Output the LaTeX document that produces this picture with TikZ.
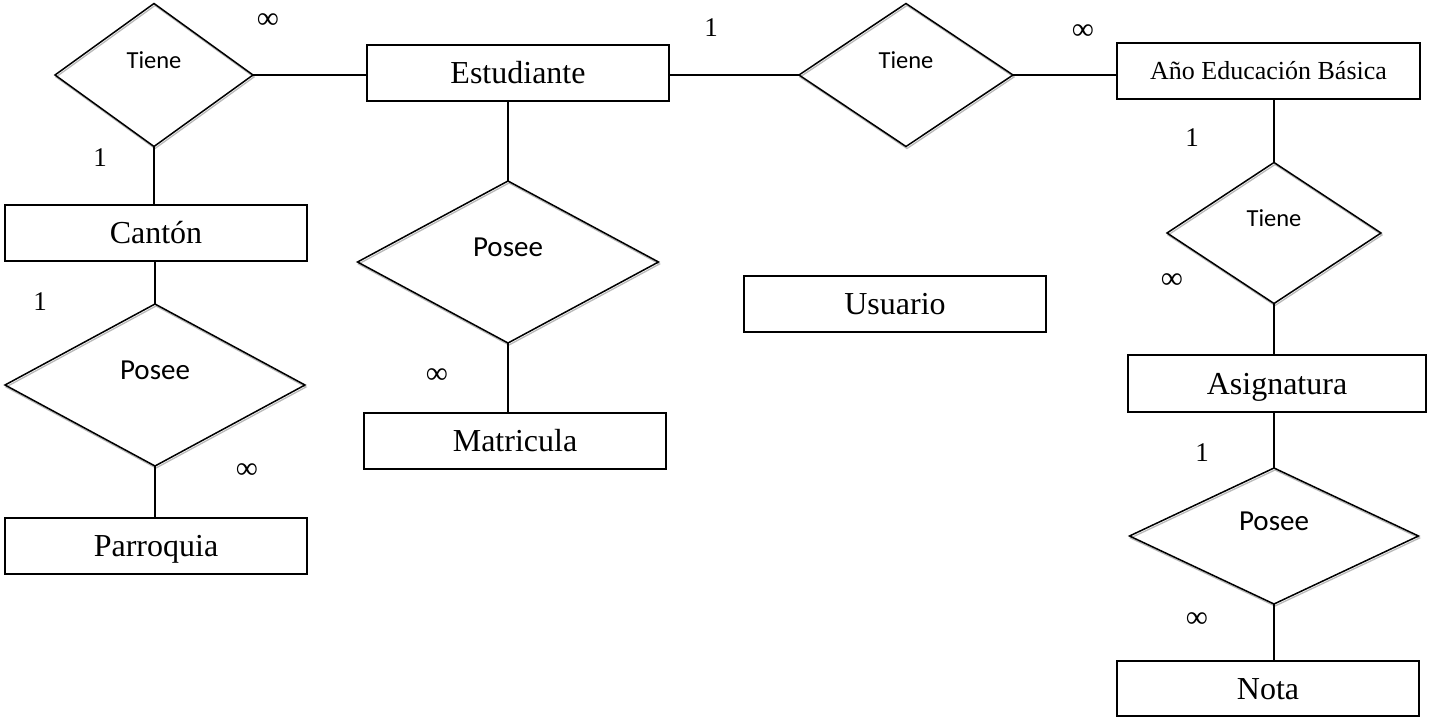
\documentclass[tikz,border=0pt]{standalone}
\usepackage{fontspec}
\setmainfont{Liberation Serif}
\newfontfamily\calfont{Carlito}
\usetikzlibrary{shapes.geometric,calc}
\tikzset{
  entity/.style={draw, line width=1.6pt, rectangle, minimum width=302pt, minimum height=56pt,
    inner sep=0pt, font=\fontsize{32}{38}\selectfont, text height=21.2pt, text depth=0pt},
  relbox/.style={draw, line width=1.5pt, diamond, inner sep=0pt, outer sep=0pt},
  relshadow/.style={draw=gray!55, line width=1.3pt, diamond, inner sep=0pt, outer sep=0pt},
  reltext/.style={anchor=base, inner sep=0pt},
  small/.style={font=\calfont\fontsize{24.5}{29}\selectfont},
  big/.style={font=\calfont\fontsize{29}{34}\selectfont},
  card/.style={inner sep=0pt, font=\fontsize{27}{32}\selectfont},
  many/.style={inner sep=0pt, font=\fontsize{31}{36}\selectfont},
  conn/.style={line width=1.6pt}
}
\begin{document}
\begin{tikzpicture}[x=1pt,y=-1pt]
\useasboundingbox (0,0) rectangle (1429,720);
% entities
\node[entity] (est) at (518,73) {Estudiante};
\node[entity] (canton) at (156,233) {Cantón};
\node[entity] (parr) at (156,546) {Parroquia};
\node[entity] (matr) at (515,441) {Matricula};
\node[entity] (usu) at (895,304) {Usuario};
\node[entity, minimum width=303pt, font=\fontsize{26}{31}\selectfont, text height=17.2pt] (ano) at (1268.5,71) {Año Educación Básica};
\node[entity, minimum width=298pt, minimum height=57pt] (asig) at (1277,383.5) {Asignatura};
\node[entity, minimum height=55pt] (nota) at (1268,688.5) {Nota};
% relation shadows
\node[relshadow, minimum width=198pt, minimum height=143pt] (d1s) at (155,77) {};
\node[relshadow, minimum width=214pt, minimum height=143pt] (d2s) at (907,77) {};
\node[relshadow, minimum width=214pt, minimum height=141pt] (d3s) at (1275,235) {};
\node[relshadow, minimum width=300pt, minimum height=162pt] (d4s) at (156,387) {};
\node[relshadow, minimum width=301pt, minimum height=162pt] (d5s) at (509,264) {};
\node[relshadow, minimum width=289pt, minimum height=136pt] (d6s) at (1275,538) {};
% relations
\node[relbox, minimum width=198pt, minimum height=143pt] (d1) at (154,75) {};
\node[relbox, minimum width=214pt, minimum height=143pt] (d2) at (906,75) {};
\node[relbox, minimum width=214pt, minimum height=141pt] (d3) at (1274,233) {};
\node[relbox, minimum width=300pt, minimum height=162pt] (d4) at (155,385) {};
\node[relbox, minimum width=301pt, minimum height=162pt] (d5) at (508,262) {};
\node[relbox, minimum width=289pt, minimum height=136pt] (d6) at (1274,536) {};
\node[reltext, small] (t1) at (154,68) {Tiene};
\node[reltext, small] (t2) at (906,68) {Tiene};
\node[reltext, small] (t3) at (1274,226) {Tiene};
\node[reltext, big] (t4) at (155,379) {Posee};
\node[reltext, big] (t5) at (508,256) {Posee};
\node[reltext, big] (t6) at (1274,530) {Posee};
% connectors
\draw[conn] (d1.east) -- (d1.east -| est.west);
\draw[conn] (d1.south) -- (d1.south |- canton.north);
\draw[conn] (d4.north |- canton.south) -- (d4.north);
\draw[conn] (d4.south) -- (d4.south |- parr.north);
\draw[conn] (d5.north |- est.south) -- (d5.north);
\draw[conn] (d5.south) -- (d5.south |- matr.north);
\draw[conn] (d2.west -| est.east) -- (d2.west);
\draw[conn] (d2.east) -- (d2.east -| ano.west);
\draw[conn] (d3.north |- ano.south) -- (d3.north);
\draw[conn] (d3.south) -- (d3.south |- asig.north);
\draw[conn] (d6.north |- asig.south) -- (d6.north);
\draw[conn] (d6.south) -- (d6.south |- nota.north);
% cardinalities
\node[card] (c1) at (100,158) {1};
\node[many] (c2) at (268,21) {∞};
\node[card] (c3) at (40,302) {1};
\node[many] (c4) at (247,471) {∞};
\node[many] (c5) at (437,376) {∞};
\node[card] (c6) at (711,28) {1};
\node[many] (c7) at (1083,32) {∞};
\node[card] (c8) at (1192,138) {1};
\node[many] (c9) at (1172,281) {∞};
\node[card] (c10) at (1202,453) {1};
\node[many] (c11) at (1197,620) {∞};
\end{tikzpicture}
\end{document}
